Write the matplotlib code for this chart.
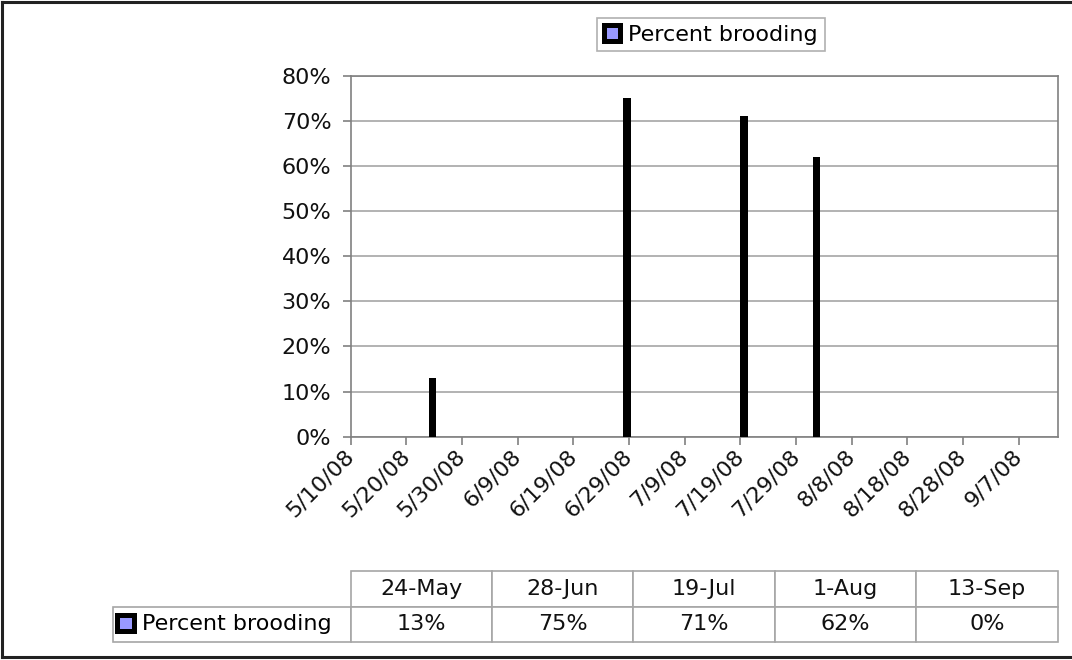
import matplotlib.pyplot as plt
import matplotlib.transforms as mtransforms
import numpy as np
import pandas as pd
from matplotlib.patches import Patch
from matplotlib.lines import Line2D

# survey dates and share of birds brooding
dates = pd.to_datetime(["2008-05-24", "2008-06-28", "2008-07-19", "2008-08-01", "2008-09-13"])
date_labels = ["24-May", "28-Jun", "19-Jul", "1-Aug", "13-Sep"]
pct = [13, 75, 71, 62, 0]
series_name = "Percent brooding"

GRID = "#a6a6a6"
AXIS = "#808080"
FILL = "#9999ff"
FS = 16

plt.rcParams["font.family"] = "DejaVu Sans"

fig = plt.figure(figsize=(10.72, 6.6), dpi=100)
W, H = 1072, 660


def fig_box(x0, y0, x1, y1):
    # pixel box (top-left origin) -> figure fraction rect
    return [x0 / W, 1 - y1 / H, (x1 - x0) / W, (y1 - y0) / H]


ax = fig.add_axes(fig_box(350.7, 75.7, 1057.7, 436.7))

ax.bar(dates, pct, width=1.35, align="edge", color="black", zorder=3)

ax.set_ylim(0, 80)
ax.set_yticks(np.arange(0, 81, 10))
ax.set_yticklabels([f"{v}%" for v in range(0, 81, 10)], fontsize=FS, color="#111111")
ax.yaxis.grid(True, color=GRID, linewidth=1.2)
ax.set_axisbelow(True)

x0 = pd.Timestamp("2008-05-10")
x1 = dates[-1] + pd.Timedelta(days=1)
ax.set_xlim(x0, x1)
ticks = pd.date_range(x0, "2008-09-07", freq="10D")
ax.set_xticks(ticks)
ax.set_xticklabels([f"{d.month}/{d.day}/{d.strftime('%y')}" for d in ticks],
                   fontsize=FS, color="#111111", rotation=45,
                   ha="right", va="center", rotation_mode="anchor")
# pull the slanted labels a bit left so they end under the tick
shift = mtransforms.ScaledTranslation(-9 / 100, -2 / 100, fig.dpi_scale_trans)
for lbl in ax.get_xticklabels():
    lbl.set_transform(lbl.get_transform() + shift)

for s in ax.spines.values():
    s.set_color(AXIS)
    s.set_linewidth(1.2)
ax.tick_params(axis="both", direction="out", length=6, width=1.2, color=AXIS)
ax.tick_params(axis="x", pad=6)
ax.tick_params(axis="y", pad=8)

handle = Patch(facecolor=FILL, edgecolor="black", linewidth=3.6)

leg = fig.legend([handle], [series_name], loc="upper left",
                 bbox_to_anchor=(586 / W, 1 - 7 / H), fontsize=FS,
                 handlelength=0.75, handleheight=0.75, handletextpad=0.35,
                 borderpad=0.3, fancybox=False, framealpha=1,
                 edgecolor="#b0b0b0")
leg.get_frame().set_linewidth(1.2)

# data table under the chart
tax = fig.add_axes(fig_box(112.7, 570.7, 1057.7, 642.3))
tax.axis("off")
label_w = 238
col_w = (1057.7 - 350.7) / len(date_labels)
total = label_w + col_w * len(date_labels)
widths = [label_w / total] + [col_w / total] * len(date_labels)
cells = [[""] + date_labels, [""] + [f"{v}%" for v in pct]]
tbl = tax.table(cellText=cells, colWidths=widths, cellLoc="center", bbox=[0, 0, 1, 1])
tbl.auto_set_font_size(False)
tbl.set_fontsize(FS)
for (r, c), cell in tbl.get_celld().items():
    cell.set_edgecolor(GRID)
    cell.set_linewidth(1.2)
    cell.get_text().set_color("#111111")
tbl[0, 0].visible_edges = ""

tax.legend([handle], [series_name], loc="center left",
           bbox_to_anchor=(0, 0.25), fontsize=FS, frameon=False,
           handlelength=0.75, handleheight=0.75, handletextpad=0.35,
           borderaxespad=0.1, borderpad=0.1)

# outer frame
for xs, ys in [([0.002, 0.002], [0.004, 0.997]),
               ([0.002, 1.0], [0.997, 0.997]),
               ([0.002, 1.0], [0.004, 0.004])]:
    fig.add_artist(Line2D(xs, ys, color="#222222", linewidth=2.2))

fig.savefig("out.png", dpi=100)
